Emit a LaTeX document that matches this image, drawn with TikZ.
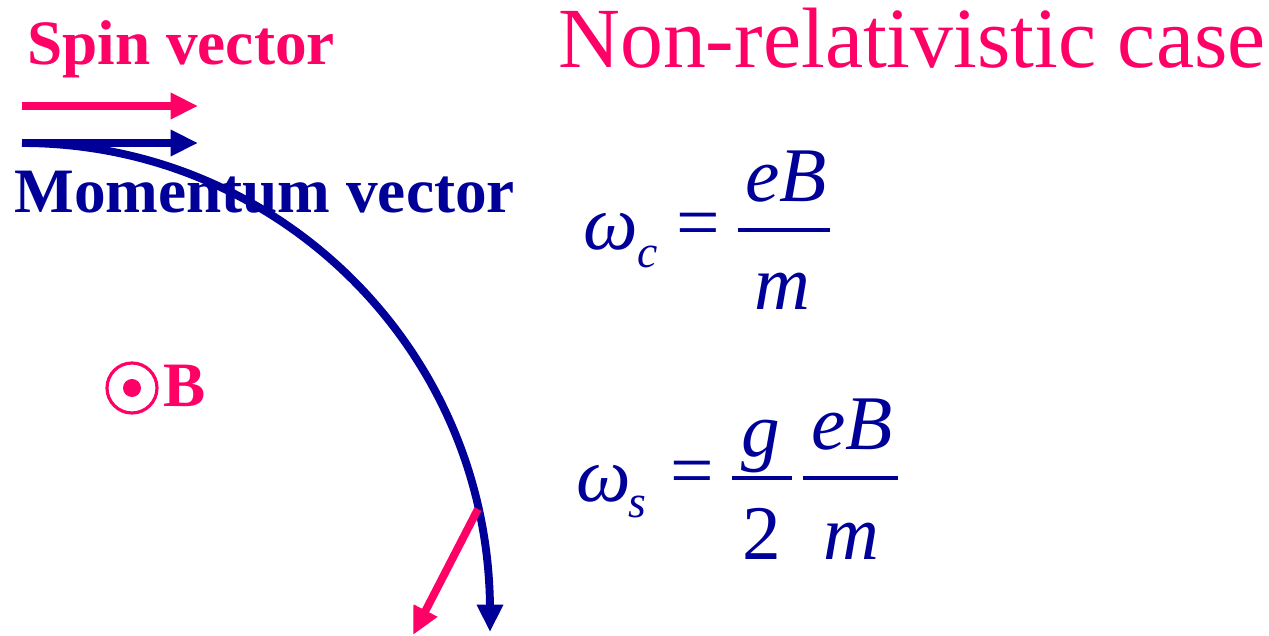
\documentclass[tikz,border=0pt]{standalone}
\usepackage{fontspec}
\setmainfont{Liberation Serif}
\usetikzlibrary{arrows.meta}

\begin{document}
\begin{tikzpicture}[x=0.02cm,y=0.02cm,
  every node/.style={inner sep=0pt},
  vec/.style={line width=4.5pt,-{Triangle[length=0.55cm,width=0.5cm]}},
  label/.style={font=\fontsize{36}{40}\selectfont\bfseries},
  eq/.style={font=\fontsize{44}{50}\selectfont\itshape,text=momentumblue},
  sub/.style={font=\fontsize{26}{30}\selectfont\itshape,text=momentumblue},
  bar/.style={line width=2pt,momentumblue}]
\definecolor{spinpink}{RGB}{255,0,102}
\definecolor{momentumblue}{RGB}{0,0,153}
\useasboundingbox (0,0) rectangle (1269,636);

% Legend and title
\node[label,text=spinpink,anchor=base west] (spin) at (27,571) {Spin vector};
\node[label,text=momentumblue,anchor=base west] (momentum) at (14,423) {Momentum vector};
\node[font=\fontsize{48.8}{56}\selectfont,text=spinpink,anchor=base west] (title) at (558,568) {Non-relativistic case};

\coordinate (spinA) at (22,530);
\coordinate (spinB) at (198,530);
\coordinate (momA) at (22,493);
\coordinate (momB) at (198,493);
\draw[vec,spinpink] (spinA) -- (spinB);
\draw[vec,momentumblue] (momA) -- (momB);

% Field out of the page
\node[draw=spinpink,line width=1.8pt,circle,minimum size=1cm] (field) at (132,248) {};
\fill[spinpink] (field.center) circle (9);
\node[label,text=spinpink,anchor=base west] (fieldB) at (163,229) {B};

% Orbit of the particle, with the spin lagging behind
\coordinate (orbitEnd) at (490,25);
\coordinate (orbitTip) at (490,4);
\draw[momentumblue,line width=4.5pt] (momA) arc[start angle=90,end angle=0,radius=468];
\draw[vec,momentumblue] (orbitEnd) -- (orbitTip);
\coordinate (spinC) at (478,127);
\coordinate (spinD) at (413,1);
\draw[vec,spinpink] (spinC) -- (spinD);

% Cyclotron frequency
\node[eq,anchor=base west] (wc) at (583,386) {ω};
\node[sub,anchor=base west] (wcSub) at (637,368) {c};
\node[eq,anchor=base,font=\fontsize{44}{50}\selectfont\upshape] (eqA) at (698,387) {=};
\node[eq,anchor=base] (numA) at (786,434) {eB};
\node[eq,anchor=base] (denA) at (782,326) {m};
\draw[bar] (738,406) -- (830,406);

% Spin precession frequency
\node[eq,anchor=base west] (ws) at (576,134) {ω};
\node[sub,anchor=base west] (wsSub) at (628,118) {s};
\node[eq,anchor=base,font=\fontsize{44}{50}\selectfont\upshape] (eqB) at (692,139) {=};
\node[eq,anchor=base] (numG) at (761,179) {g};
\node[eq,anchor=base,font=\fontsize{44}{50}\selectfont\upshape] (denTwo) at (762,76) {2};
\draw[bar] (732,158) -- (792,158);
\node[eq,anchor=base] (numB) at (852,186) {eB};
\node[eq,anchor=base] (denB) at (851,76) {m};
\draw[bar] (803,158) -- (898,158);
\end{tikzpicture}
\end{document}
